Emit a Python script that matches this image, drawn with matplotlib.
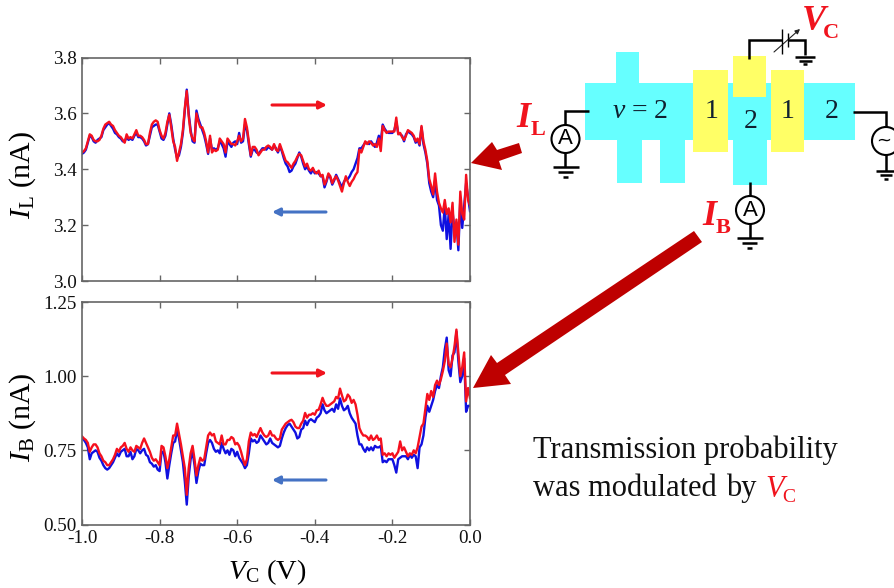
import matplotlib
matplotlib.use('Agg')
import matplotlib.pyplot as plt
from matplotlib.patches import Rectangle, Circle, Polygon, FancyArrowPatch
from matplotlib.ticker import FormatStrFormatter

plt.rcParams['font.family'] = ['Liberation Serif', 'DejaVu Serif']
plt.rcParams['mathtext.fontset'] = 'custom'
plt.rcParams['mathtext.rm'] = 'Liberation Serif'
plt.rcParams['mathtext.it'] = 'Liberation Serif:italic'
plt.rcParams['axes.unicode_minus'] = False

# gate voltage sweep (V)
vc = [-1.000,-0.995,-0.990,-0.985,-0.980,-0.975,-0.970,-0.965,-0.960,-0.955,
      -0.950,-0.945,-0.940,-0.935,-0.930,-0.925,-0.920,-0.915,-0.910,-0.905,
      -0.900,-0.895,-0.890,-0.885,-0.880,-0.875,-0.870,-0.865,-0.860,-0.855,
      -0.850,-0.845,-0.840,-0.835,-0.830,-0.825,-0.820,-0.815,-0.810,-0.805,
      -0.800,-0.795,-0.790,-0.785,-0.780,-0.775,-0.770,-0.765,-0.760,-0.755,
      -0.750,-0.745,-0.740,-0.735,-0.730,-0.725,-0.720,-0.715,-0.710,-0.705,
      -0.700,-0.695,-0.690,-0.685,-0.680,-0.675,-0.670,-0.665,-0.660,-0.655,
      -0.650,-0.645,-0.640,-0.635,-0.630,-0.625,-0.620,-0.615,-0.610,-0.605,
      -0.600,-0.595,-0.590,-0.585,-0.580,-0.575,-0.570,-0.565,-0.560,-0.555,
      -0.550,-0.545,-0.540,-0.535,-0.530,-0.525,-0.520,-0.515,-0.510,-0.505,
      -0.500,-0.495,-0.490,-0.485,-0.480,-0.475,-0.470,-0.465,-0.460,-0.455,
      -0.450,-0.445,-0.440,-0.435,-0.430,-0.425,-0.420,-0.415,-0.410,-0.405,
      -0.400,-0.395,-0.390,-0.385,-0.380,-0.375,-0.370,-0.365,-0.360,-0.355,
      -0.350,-0.345,-0.340,-0.335,-0.330,-0.325,-0.320,-0.315,-0.310,-0.305,
      -0.300,-0.295,-0.290,-0.285,-0.280,-0.275,-0.270,-0.265,-0.260,-0.255,
      -0.250,-0.245,-0.240,-0.235,-0.230,-0.225,-0.220,-0.215,-0.210,-0.205,
      -0.200,-0.195,-0.190,-0.185,-0.180,-0.175,-0.170,-0.165,-0.160,-0.155,
      -0.150,-0.145,-0.140,-0.135,-0.130,-0.125,-0.120,-0.115,-0.110,-0.105,
      -0.100,-0.095,-0.090,-0.085,-0.080,-0.075,-0.070,-0.065,-0.060,-0.055,
      -0.050,-0.045,-0.040,-0.035,-0.030,-0.025,-0.020,-0.015,-0.010,-0.005,
      0.0]

il_red = [3.46,3.465,3.475,3.50,3.525,3.52,3.505,3.50,3.50,3.505,
          3.52,3.545,3.56,3.565,3.57,3.56,3.555,3.54,3.53,3.52,
          3.515,3.505,3.495,3.525,3.51,3.515,3.51,3.525,3.54,3.52,
          3.52,3.515,3.505,3.49,3.49,3.53,3.56,3.57,3.575,3.57,
          3.54,3.52,3.51,3.53,3.57,3.595,3.55,3.50,3.48,3.43,
          3.46,3.49,3.54,3.62,3.68,3.59,3.53,3.51,3.50,3.60,
          3.57,3.55,3.55,3.53,3.50,3.46,3.52,3.46,3.47,3.465,
          3.47,3.51,3.50,3.49,3.46,3.51,3.50,3.49,3.49,3.485,
          3.50,3.52,3.50,3.51,3.58,3.55,3.50,3.45,3.48,3.48,
          3.47,3.45,3.46,3.47,3.47,3.48,3.485,3.48,3.47,3.49,
          3.47,3.465,3.49,3.47,3.45,3.43,3.425,3.415,3.405,3.42,
          3.43,3.445,3.455,3.45,3.43,3.41,3.42,3.40,3.395,3.405,
          3.39,3.385,3.395,3.375,3.38,3.345,3.36,3.385,3.375,3.35,
          3.365,3.375,3.36,3.34,3.32,3.35,3.375,3.355,3.34,3.355,
          3.365,3.38,3.39,3.47,3.46,3.48,3.50,3.49,3.50,3.495,
          3.485,3.49,3.48,3.51,3.465,3.555,3.54,3.53,3.535,3.535,
          3.535,3.535,3.585,3.525,3.53,3.515,3.505,3.52,3.54,3.535,
          3.53,3.52,3.50,3.51,3.49,3.555,3.50,3.47,3.43,3.365,
          3.34,3.31,3.385,3.32,3.28,3.26,3.245,3.29,3.24,3.26,
          3.21,3.28,3.14,3.22,3.13,3.32,3.24,3.22,3.38,3.29,
          3.27]

il_blue = [3.455,3.46,3.47,3.495,3.52,3.515,3.50,3.495,3.505,3.51,
           3.515,3.54,3.55,3.56,3.565,3.555,3.545,3.53,3.525,3.515,
           3.51,3.50,3.50,3.515,3.505,3.51,3.505,3.52,3.53,3.515,
           3.515,3.51,3.50,3.485,3.49,3.52,3.55,3.555,3.56,3.56,
           3.535,3.51,3.505,3.52,3.56,3.60,3.56,3.51,3.47,3.44,
           3.45,3.48,3.53,3.61,3.685,3.60,3.54,3.50,3.495,3.61,
           3.58,3.56,3.54,3.52,3.49,3.455,3.51,3.47,3.475,3.47,
           3.475,3.50,3.49,3.475,3.445,3.50,3.49,3.48,3.495,3.50,
           3.49,3.53,3.495,3.50,3.56,3.54,3.49,3.445,3.47,3.47,
           3.46,3.455,3.465,3.475,3.475,3.47,3.48,3.475,3.47,3.485,
           3.475,3.46,3.48,3.465,3.44,3.42,3.41,3.39,3.395,3.41,
           3.42,3.44,3.46,3.445,3.42,3.40,3.41,3.395,3.385,3.40,
           3.385,3.39,3.385,3.375,3.375,3.335,3.355,3.38,3.37,3.345,
           3.36,3.38,3.365,3.35,3.335,3.355,3.365,3.365,3.375,3.39,
           3.40,3.42,3.44,3.475,3.475,3.485,3.495,3.495,3.49,3.50,
           3.49,3.48,3.495,3.52,3.50,3.56,3.545,3.535,3.53,3.53,
           3.53,3.54,3.57,3.53,3.525,3.52,3.50,3.525,3.535,3.53,
           3.525,3.515,3.495,3.505,3.485,3.55,3.49,3.46,3.42,3.35,
           3.32,3.30,3.36,3.29,3.27,3.20,3.18,3.27,3.15,3.24,
           3.115,3.25,3.18,3.21,3.11,3.29,3.19,3.27,3.35,3.30,
           3.25]

ib_red = [0.797,0.79,0.785,0.775,0.745,0.76,0.77,0.77,0.76,0.74,
          0.73,0.715,0.71,0.70,0.70,0.71,0.72,0.735,0.755,0.745,
          0.76,0.765,0.775,0.755,0.745,0.76,0.75,0.745,0.765,0.76,
          0.755,0.775,0.79,0.775,0.76,0.745,0.725,0.715,0.72,0.71,
          0.70,0.765,0.76,0.73,0.69,0.72,0.76,0.80,0.80,0.84,
          0.805,0.77,0.73,0.69,0.60,0.69,0.74,0.765,0.72,0.665,
          0.70,0.725,0.715,0.72,0.76,0.80,0.81,0.80,0.805,0.78,
          0.775,0.77,0.80,0.77,0.77,0.785,0.785,0.795,0.79,0.77,
          0.775,0.765,0.745,0.72,0.70,0.72,0.78,0.81,0.80,0.805,
          0.795,0.81,0.825,0.81,0.80,0.795,0.80,0.815,0.80,0.80,
          0.79,0.785,0.79,0.82,0.83,0.84,0.845,0.85,0.853,0.845,
          0.83,0.825,0.825,0.84,0.85,0.876,0.86,0.87,0.87,0.875,
          0.87,0.885,0.887,0.905,0.927,0.91,0.90,0.90,0.905,0.91,
          0.915,0.93,0.925,0.958,0.935,0.915,0.92,0.938,0.93,0.91,
          0.92,0.905,0.87,0.825,0.81,0.80,0.80,0.795,0.785,0.80,
          0.785,0.79,0.80,0.785,0.79,0.735,0.74,0.73,0.74,0.735,
          0.74,0.725,0.735,0.745,0.78,0.75,0.76,0.745,0.73,0.74,
          0.735,0.75,0.74,0.76,0.795,0.83,0.84,0.89,0.94,0.92,
          0.95,0.93,0.97,0.985,0.97,0.99,1.017,1.05,1.11,1.04,
          1.03,1.06,1.10,1.157,1.08,1.00,1.03,1.08,0.915,0.96,
          0.926]

ib_blue = [0.79,0.785,0.775,0.76,0.72,0.74,0.745,0.75,0.745,0.725,
           0.715,0.70,0.69,0.685,0.69,0.70,0.71,0.725,0.74,0.73,
           0.745,0.75,0.755,0.73,0.73,0.745,0.72,0.73,0.755,0.75,
           0.74,0.75,0.755,0.735,0.73,0.71,0.705,0.695,0.70,0.685,
           0.68,0.745,0.745,0.71,0.655,0.70,0.74,0.775,0.78,0.82,
           0.79,0.75,0.71,0.645,0.567,0.66,0.72,0.745,0.70,0.64,
           0.68,0.705,0.70,0.70,0.74,0.775,0.785,0.775,0.755,0.745,
           0.75,0.74,0.775,0.755,0.74,0.75,0.735,0.755,0.75,0.73,
           0.745,0.725,0.715,0.705,0.69,0.70,0.74,0.79,0.78,0.785,
           0.775,0.78,0.80,0.79,0.78,0.77,0.775,0.79,0.775,0.77,
           0.765,0.76,0.765,0.79,0.81,0.825,0.835,0.84,0.83,0.82,
           0.81,0.79,0.795,0.82,0.825,0.85,0.835,0.85,0.855,0.85,
           0.845,0.86,0.865,0.875,0.905,0.885,0.875,0.88,0.885,0.89,
           0.88,0.905,0.89,0.925,0.90,0.885,0.89,0.90,0.875,0.86,
           0.85,0.84,0.80,0.77,0.77,0.755,0.745,0.76,0.75,0.76,
           0.75,0.765,0.76,0.76,0.765,0.71,0.715,0.71,0.72,0.72,
           0.72,0.70,0.675,0.72,0.725,0.73,0.73,0.73,0.72,0.735,
           0.725,0.735,0.73,0.69,0.76,0.77,0.80,0.86,0.90,0.88,
           0.90,0.92,0.95,0.97,0.96,1.00,1.03,1.09,1.13,1.02,
           1.00,1.07,1.08,1.15,1.05,0.98,1.00,1.06,0.88,0.90,
           0.90]

x_ticks = [-1.0, -0.8, -0.6, -0.4, -0.2, 0.0]
il_ticks = [3.0, 3.2, 3.4, 3.6, 3.8]
ib_ticks = [0.50, 0.75, 1.00, 1.25]

W, H = 894, 588
RED = '#F0141E'
BLUE_ARROW = '#4472C4'
DARK_RED = '#BE0000'
CYAN = '#66FFFF'
YELLOW = '#FFFF66'
SPINE = '#666666'
INK = '#102030'

fig = plt.figure(figsize=(W / 100, H / 100), dpi=100)


def panel(left, top, right, bottom):
    return fig.add_axes([left / W, 1 - bottom / H, (right - left) / W, (bottom - top) / H])


def style(ax, yticks, fmt):
    ax.set_xlim(-1.0, 0.0)
    ax.set_xticks(x_ticks)
    ax.set_yticks(yticks)
    ax.set_ylim(yticks[0], yticks[-1])
    ax.yaxis.set_major_formatter(FormatStrFormatter(fmt))
    ax.tick_params(direction='in', top=True, right=True, length=4, width=1, color=SPINE,
                   labelsize=13.8, pad=4, labelcolor='#111111')
    ax.tick_params(axis='x', pad=4)
    for s in ax.spines.values():
        s.set_color(SPINE)
        s.set_linewidth(1.2)


ax1 = panel(82, 57.5, 470, 281)
ax1.plot(vc, il_blue, color='#1010E0', lw=1.7)
ax1.plot(vc, il_red, color='#F5101E', lw=1.7)
style(ax1, il_ticks, '%.1f')
ax1.set_xticklabels([])
ax1.set_ylabel(r'$I_{\mathrm{L}}$ (nA)', fontsize=21.5)
ax1.yaxis.set_label_coords((38 - 82) / 388, (281 - 175) / 223.5)

ax2 = panel(82, 302, 470, 524.5)
ax2.plot(vc, ib_blue, color='#1010E0', lw=1.7)
ax2.plot(vc, ib_red, color='#F5101E', lw=1.7)
style(ax2, ib_ticks, '%.2f')
ax2.set_xticklabels(['-1.0', '-0.8', '-0.6', '-0.4', '-0.2', '0.0'])
ax2.set_xlabel(r'$V_{\mathrm{C}}$ (V)', fontsize=20.5)
ax2.xaxis.set_label_coords((267 - 82) / 388, -(557 - 524.5) / 222.5)
ax2.set_ylabel(r'$I_{\mathrm{B}}$ (nA)', fontsize=21.5)
ax2.yaxis.set_label_coords((38 - 82) / 388, (524.5 - 417) / 222.5)

# overlay in pixel coords for the schematic and annotations
ov = fig.add_axes([0, 0, 1, 1], zorder=5)
ov.set_xlim(0, W)
ov.set_ylim(H, 0)
ov.axis('off')
ov.patch.set_alpha(0)


def box(x0, y0, x1, y1, c):
    ov.add_patch(Rectangle((x0, y0), x1 - x0, y1 - y0, fc=c, ec='none'))


def wire(xs, ys, lw=1.8):
    ov.plot(xs, ys, color='black', lw=lw, solid_capstyle='butt', solid_joinstyle='miter')


def ground(x, y, w1=26, w2=15, w3=5, dy=5):
    wire([x - w1 / 2, x + w1 / 2], [y, y])
    wire([x - w2 / 2, x + w2 / 2], [y + dy, y + dy])
    wire([x - w3 / 2, x + w3 / 2], [y + 2 * dy, y + 2 * dy])


def meter(x, y, label='A'):
    ov.add_patch(Circle((x, y), 14, fc='white', ec='black', lw=1.5, zorder=3))
    if label:
        ov.text(x, y, label, ha='center', va='center', fontsize=16, family='Liberation Sans', zorder=4)


def arrow(x0, y0, x1, y1, c):
    ov.add_patch(FancyArrowPatch((x0, y0), (x1, y1), arrowstyle='-|>', mutation_scale=11,
                                 color=c, lw=2.2, shrinkA=0, shrinkB=0))


# sweep direction arrows
arrow(272, 105, 327, 105, RED)
arrow(326, 212, 272, 212, BLUE_ARROW)
arrow(272, 373, 327, 373, RED)
arrow(326, 480, 272, 480, BLUE_ARROW)

# device
box(585, 83, 855, 140, CYAN)
box(616, 52, 639, 83, CYAN)
box(617, 140, 642, 183, CYAN)
box(660, 140, 685, 183, CYAN)
box(733, 140, 767, 185, CYAN)
box(693, 70, 728, 152, YELLOW)
box(733, 56, 766, 97, YELLOW)
box(771, 70, 804, 152, YELLOW)
ov.text(640, 111, r'$\nu$ = 2', ha='center', va='center', fontsize=20, color=INK)
ov.text(712, 111, '1', ha='center', va='center', fontsize=20, color=INK)
ov.text(751, 122, '2', ha='center', va='center', fontsize=20, color=INK)
ov.text(788, 111, '1', ha='center', va='center', fontsize=20, color=INK)
ov.text(832, 111, '2', ha='center', va='center', fontsize=20, color=INK)

# circuit
wire([589, 565, 565], [111, 111, 127])
wire([565, 565], [152, 167])
meter(565.5, 139)
ground(565.5, 167)
wire([749.5, 749.5], [182, 197])
wire([749.5, 749.5], [223, 238])
meter(750, 210)
ground(749.5, 238)
wire([853, 886, 886], [112, 112, 128])
wire([886, 886], [154, 171])
meter(886, 141, None)
ov.text(884, 141, '~', ha='center', va='center', fontsize=13, family='DejaVu Sans', zorder=4)
ground(886, 171, w1=20, w2=12, w3=4, dy=4)
wire([749, 749, 782], [59, 40, 40])
wire([788, 805, 805], [40, 40, 55])
ground(805, 57, w1=20, w2=13, w3=4, dy=3.5)
wire([782, 782], [29, 54], lw=1)
wire([788, 788], [33, 47], lw=1)
ov.add_patch(FancyArrowPatch((774, 52), (800, 29), arrowstyle='-|>', mutation_scale=7, color='#222222', lw=0.8,
                             shrinkA=0, shrinkB=0))

# big red arrows
ov.add_patch(Polygon([[519, 143], [522, 153], [499, 161], [502, 170], [471, 163], [492, 142], [497, 150]],
                     fc=DARK_RED, ec='none'))
ov.add_patch(Polygon([[694, 231], [702, 242], [505, 375], [511, 384], [473, 388], [491, 355], [497, 363]],
                     fc=DARK_RED, ec='none'))

# red labels
ov.text(516, 127, 'I', fontsize=26, style='italic', weight='bold', color=RED, va='baseline')
ov.text(531, 135, 'L', fontsize=16, weight='bold', color=RED, va='baseline')
ov.text(702, 225, 'I', fontsize=26, style='italic', weight='bold', color=RED, va='baseline')
ov.text(716, 233, 'B', fontsize=16, weight='bold', color=RED, va='baseline')
ov.text(802, 30, 'V', fontsize=26, style='italic', weight='bold', color=RED, va='baseline')
ov.text(823, 38, 'C', fontsize=16, weight='bold', color=RED, va='baseline')

# caption
ov.text(533, 458, 'Transmission probability', fontsize=22, color='#111111', va='baseline')
ov.text(533, 496, 'was modulated', fontsize=22, color='#111111', va='baseline')
ov.text(726, 496, 'by', fontsize=22, color='#111111', va='baseline')
ov.text(765, 497, 'V', fontsize=22, style='italic', color=RED, va='baseline')
ov.text(782, 502, 'C', fontsize=14, color=RED, va='baseline')

fig.savefig('out.png', dpi=100)
